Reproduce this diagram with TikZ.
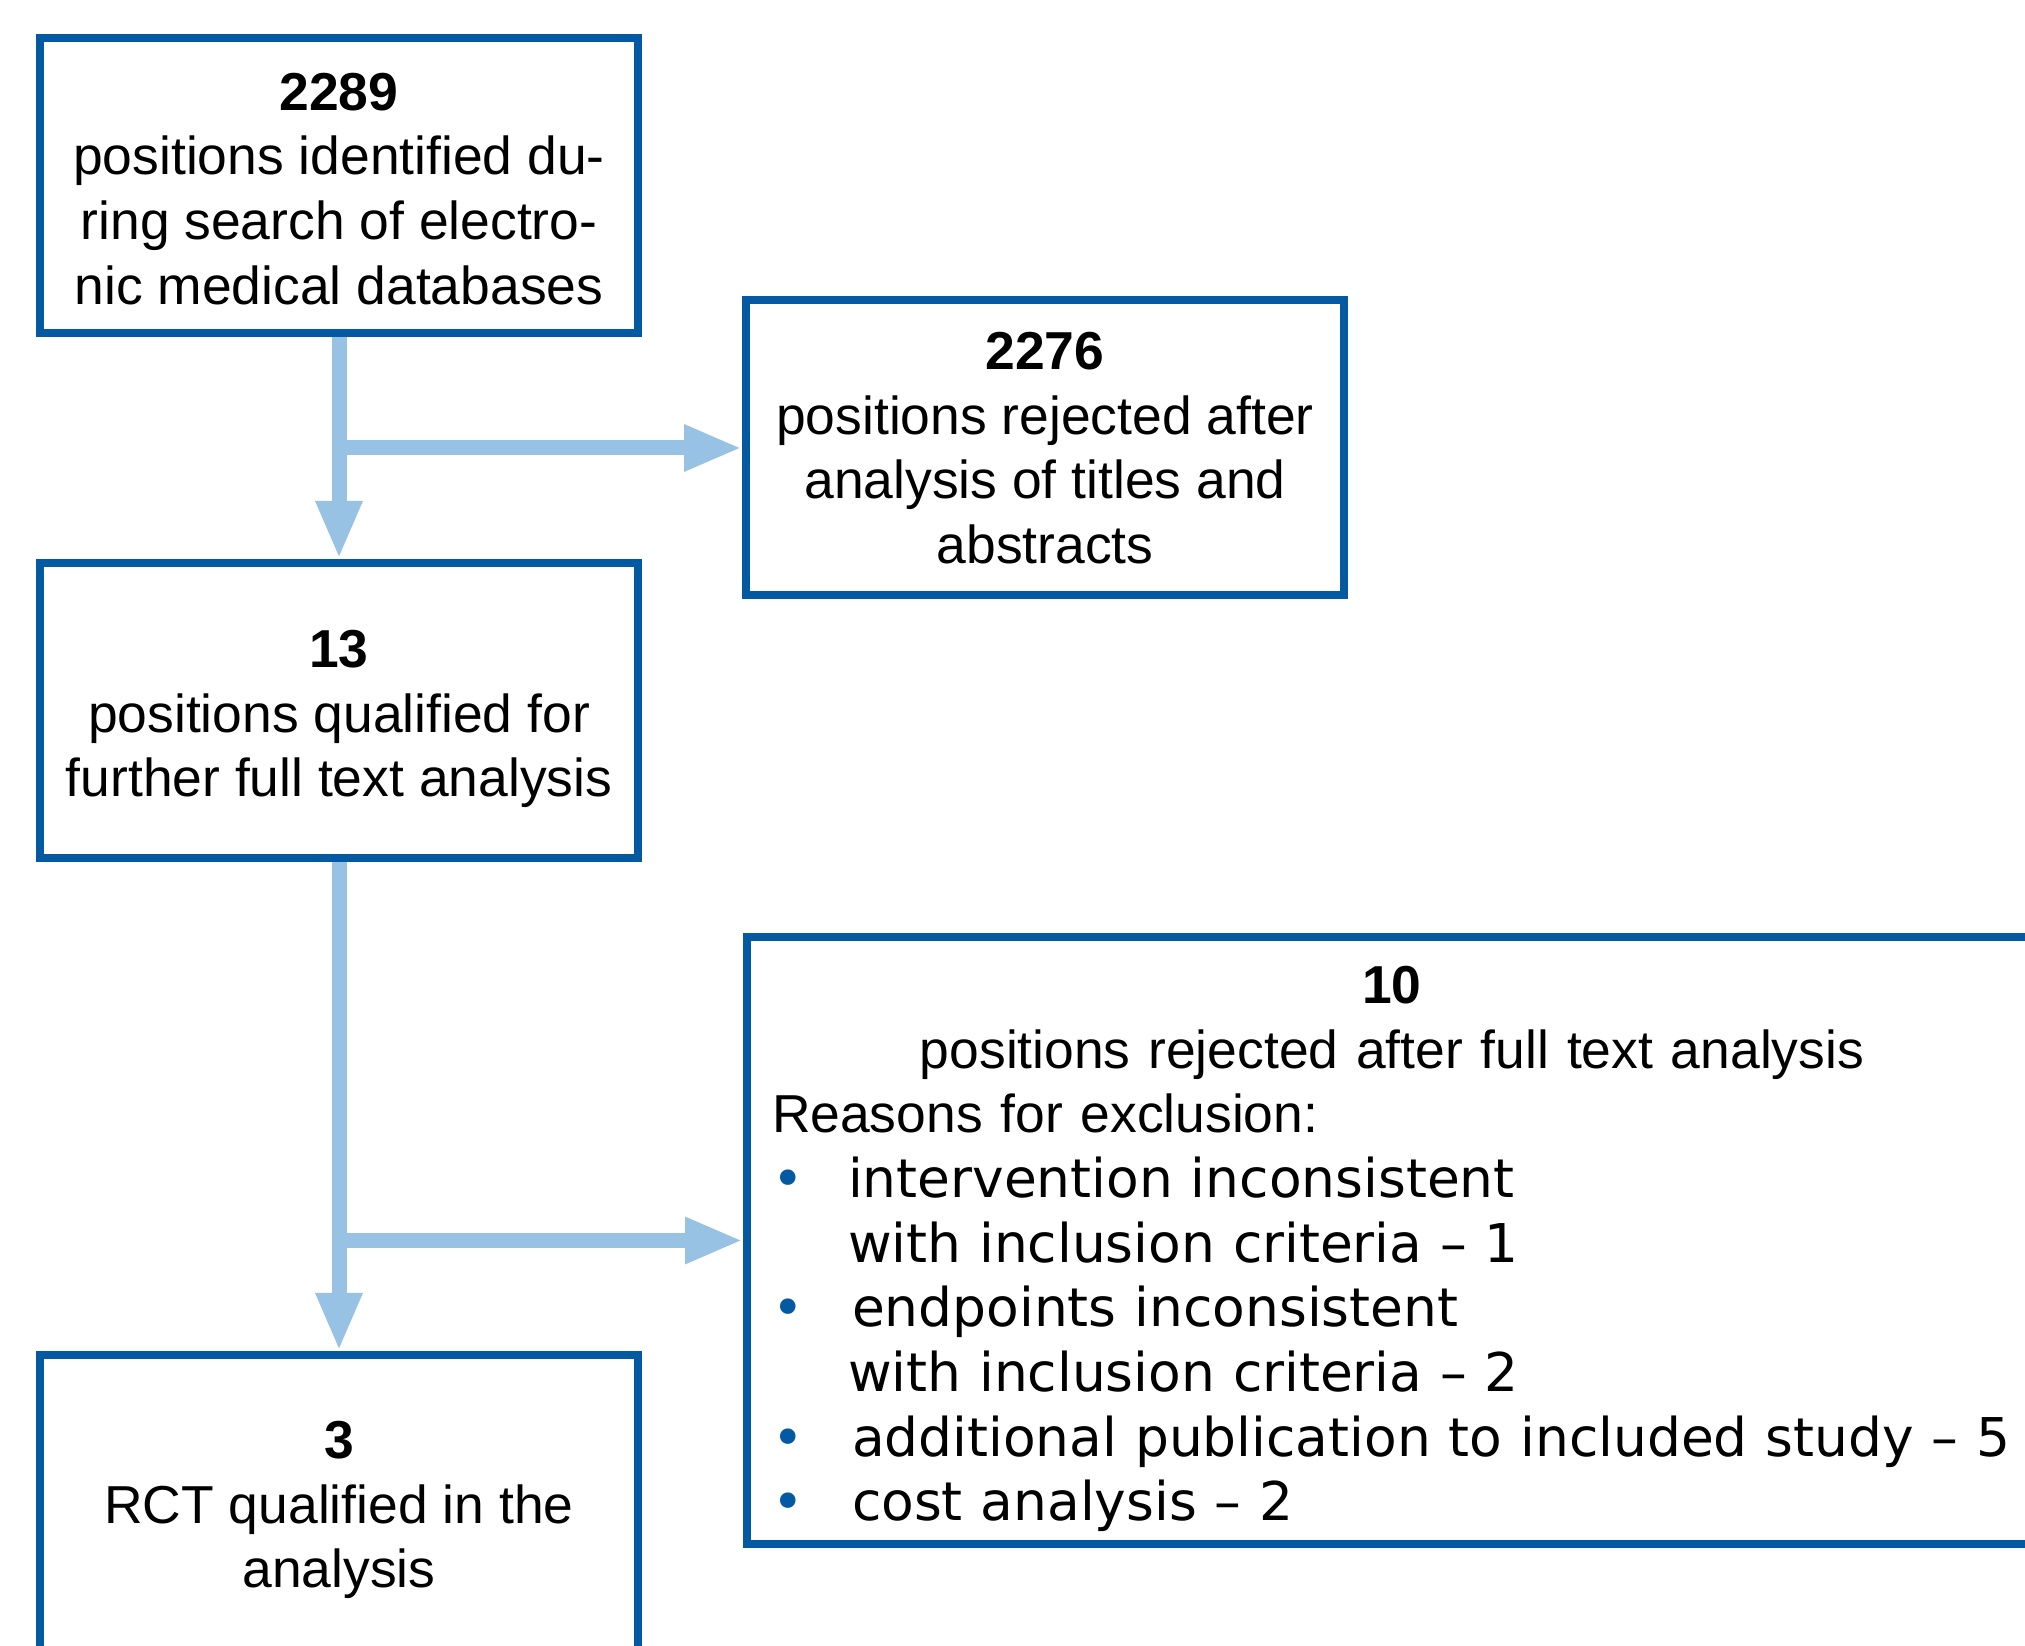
\documentclass[tikz,border=0pt]{standalone}
\usepackage{fontspec}
\setmainfont{Liberation Sans}
\newfontfamily\listfont{DejaVu Sans}
\usetikzlibrary{arrows.meta}
\definecolor{boxblue}{RGB}{4,90,162}
\definecolor{flowblue}{RGB}{151,194,227}
\newcommand{\bul}[1]{\makebox[#1][l]{\textcolor{boxblue}{•}}}
\newcommand{\lift}[1]{\rule{0pt}{#1}}
\begin{document}
\begin{tikzpicture}[
    box/.style={draw=boxblue, line width=0.08cm, align=center,
        minimum width=5.98cm, minimum height=2.95cm},
    flow/.style={draw=flowblue, line width=0.15cm,
        -{Triangle[width=0.43cm, length=0.58cm]}},
    font=\fontsize{15.2}{18.4}\selectfont]
    \useasboundingbox (0, 0) rectangle (20.25, -16.46);
    \node[box] (found) at(3.39, -1.855) {\lift{12.4pt}\textbf{2289}\\positions identified du-\\ring search of electro-\\nic medical databases};
    \node[box] (rejtitle) at(10.45, -4.48) {\textbf{2276}\\positions rejected after\\analysis of titles and\\abstracts};
    \node[box] (qual) at(3.39, -7.105) {\lift{15.5pt}\textbf{13}\\positions qualified for\\further full text analysis};
    \node[box, align=left, minimum width=12.9cm, minimum height=5.95cm,
        text width=12.4cm, inner xsep=0.21cm] (rejfull) at(13.92, -12.405) {%
        {\centering\lift{15.5pt}\textbf{10}\\positions rejected after full text analysis\par}
        Reasons for exclusion:\\
        {\listfont\bul{0.76cm}intervention inconsistent\\
        \hspace*{0.76cm}with inclusion criteria – 1\\
        \bul{0.80cm}endpoints inconsistent\\
        \hspace*{0.76cm}with inclusion criteria – 2\\
        \bul{0.80cm}additional publication to included study – 5\\
        \bul{0.80cm}cost analysis – 2\par}};
    \node[box] (rct) at(3.39, -15.025) {\lift{15pt}\textbf{3}\\RCT qualified in the\\analysis};
    \draw[flow] (found) -- (qual);
    \draw[flow] (found.south |- rejtitle.west) -- (rejtitle.west);
    \draw[flow] (qual) -- (rct);
    \draw[flow] (qual.south |- rejfull.west) -- (rejfull.west);
\end{tikzpicture}
\end{document}
